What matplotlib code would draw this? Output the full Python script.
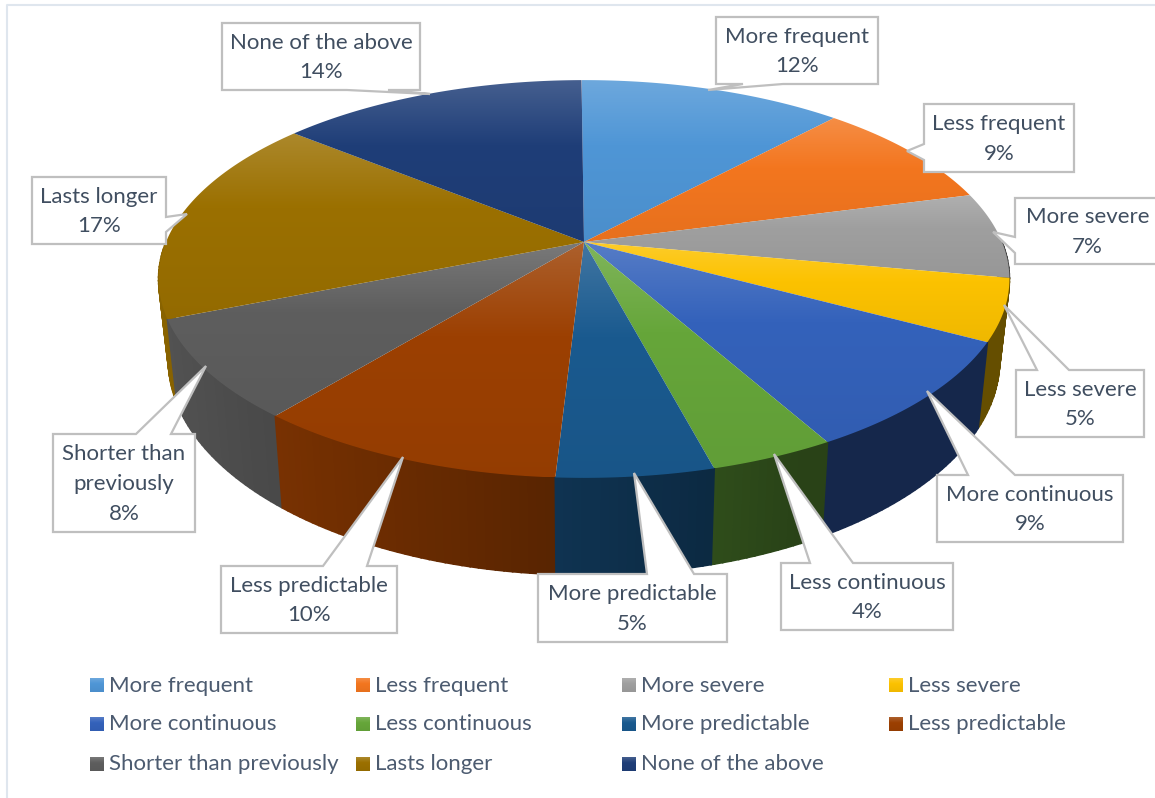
import numpy as np
import matplotlib
matplotlib.use("Agg")
from matplotlib import pyplot as plt
from matplotlib.patches import Polygon

plt.rcParams["font.family"] = ["Lato", "DejaVu Sans"]

categories = ["More frequent", "Less frequent", "More severe", "Less severe",
              "More continuous", "Less continuous", "More predictable",
              "Less predictable", "Shorter than previously", "Lasts longer",
              "None of the above"]
values = [12, 9, 7, 5, 9, 4, 5, 10, 8, 17, 14]
colors = ["#4f96d6", "#f3761f", "#9f9f9f", "#fcc200", "#3462bb", "#66a63a",
          "#1a5a8f", "#9c4002", "#5e5e5e", "#9b7000", "#1f3e78"]

# label text, box (left, top, right, bottom), pointer tip, two pointer base points
callouts = [
    ("More frequent\n12%", (716, 17, 878, 84), (708, 90), (743, 84), (783, 84)),
    ("Less frequent\n9%", (924, 104, 1074, 172), (907, 151), (924, 144), (924, 160)),
    ("More severe\n7%", (1015, 198, 1160, 264), (993, 232), (1015, 237), (1015, 253)),
    ("Less severe\n5%", (1016, 370, 1144, 437), (1004, 305), (1037, 370), (1069, 370)),
    ("More continuous\n9%", (937, 475, 1123, 542), (927, 391), (968, 475), (1015, 475)),
    ("Less continuous\n4%", (781, 563, 953, 630), (774, 454), (810, 563), (853, 563)),
    ("More predictable\n5%", (538, 574, 727, 642), (634, 473), (647, 574), (694, 574)),
    ("Less predictable\n10%", (221, 566, 397, 633), (403, 457), (323, 566), (367, 566)),
    ("Shorter than\npreviously\n8%", (53, 434, 195, 532), (206, 366), (136, 434), (171, 434)),
    ("Lasts longer\n17%", (32, 177, 166, 244), (187, 214), (166, 217), (166, 232)),
    ("None of the above\n14%", (222, 23, 420, 90), (430, 94), (347, 90), (388, 90)),
]

legend_cols = [90, 356, 622, 889]
legend_rows = [685, 724, 764]

# perspective disc: apex position, radius, tilt and foreshortening
CX, CY = 584, 242
R, H, K = 418, 192, 0.186
START = np.radians(-0.4)
# rim of the lower face relative to the upper one
SCALE_X, BASE_A, BASE_B = 0.977, 58.8, 1.08


def project(theta):
    # theta runs clockwise from 12 o'clock
    u, v = np.sin(theta), np.cos(theta)
    w = 1 + K * v
    return CX + R * u / w, CY - H * v / w


def project_base(theta):
    x, y = project(theta)
    return CX + SCALE_X * (x - CX), BASE_A + BASE_B * y


def shade(color, factor):
    rgb = np.array(matplotlib.colors.to_rgb(color))
    return tuple(rgb * factor)


def gradient(color, t):
    # lighter at the top of a shape, slightly darker at the bottom
    rgb = np.array(matplotlib.colors.to_rgb(color))
    out = np.zeros((len(t), 3))
    for i, p in enumerate(t):
        if p < 0.4:
            mix = 0.17 * (0.4 - p) / 0.4
            out[i] = rgb + (1 - rgb) * mix
        else:
            out[i] = rgb * (1 - 0.05 * (p - 0.4) / 0.6)
    return out[:, None, :]


def fill_gradient(ax, xy, color, zorder):
    patch = Polygon(xy, closed=True, facecolor="none", edgecolor="none", zorder=zorder)
    ax.add_patch(patch)
    top, bottom = xy[:, 1].min(), xy[:, 1].max()
    img = ax.imshow(gradient(color, np.linspace(0, 1, 128)), aspect="auto",
                    extent=(xy[:, 0].min(), xy[:, 0].max(), bottom, top),
                    interpolation="bilinear", zorder=zorder)
    img.set_clip_path(patch)


fig = plt.figure(figsize=(11.55, 7.98), dpi=100)
ax = fig.add_axes([0, 0, 1, 1])

edges = START + np.cumsum([0] + values) / sum(values) * 2 * np.pi

# outer wall, painted from the back to the front; the far half stays hidden
strips = []
for i, color in enumerate(colors):
    a = np.arange(edges[i], edges[i + 1], np.radians(1.0))
    a = np.append(a, edges[i + 1])
    for t0, t1 in zip(a[:-1], a[1:]):
        depth = np.cos((t0 + t1) / 2)
        if depth < 0:
            strips.append((depth, t0, t1, color))
strips.sort(key=lambda s: -s[0])
for _, t0, t1, color in strips:
    x0, y0 = project(t0)
    x1, y1 = project(t1)
    x2, y2 = project_base(t1)
    x3, y3 = project_base(t0)
    f = np.clip(0.55 - 0.35 * np.sin((t0 + t1) / 2), 0.40, 0.95)
    c = shade(color, f)
    ax.add_patch(Polygon([(x0, y0), (x1, y1), (x2, y2), (x3, y3)], closed=True,
                         facecolor=c, edgecolor=c, linewidth=1.2, zorder=1))

# top face
for i, color in enumerate(colors):
    a = np.linspace(edges[i], edges[i + 1], 80)
    x, y = project(a)
    xy = np.column_stack([np.append(x, CX), np.append(y, CY)])
    fill_gradient(ax, xy, color, 2 + i * 0.01)

# callout boxes
for text, (l, t, r, b), tip, p0, p1 in callouts:
    if p0[1] == b:  # pointer leaves through the bottom edge
        pts = [(l, t), (r, t), (r, b), p1, tip, p0, (l, b)]
    elif p0[1] == t:  # top edge
        pts = [(l, t), p0, tip, p1, (r, t), (r, b), (l, b)]
    elif p0[0] == l:  # left edge
        pts = [(l, t), (r, t), (r, b), (l, b), p1, tip, p0]
    else:  # right edge
        pts = [(l, t), (r, t), p0, tip, p1, (r, b), (l, b)]
    ax.add_patch(Polygon(pts, closed=True, facecolor="white", edgecolor="#bfbfbf",
                         linewidth=1.6, joinstyle="miter", zorder=4))
    ax.text((l + r) / 2, (t + b) / 2 + 1, text, ha="center", va="center", fontsize=16,
            color="#404e60", linespacing=1.6, zorder=5)

# legend, filled row by row
for i, (name, color) in enumerate(zip(categories, colors)):
    col = legend_cols[i % 4]
    row = legend_rows[i // 4]
    square = np.array([(col, row - 7), (col + 14, row - 7), (col + 14, row + 7), (col, row + 7)])
    fill_gradient(ax, square, color, 3)
    ax.text(col + 19, row + 0.5, name, ha="left", va="center", fontsize=16, color="#4c5b70", zorder=5)

# chart area frame, only top and left fall inside the image
ax.plot([7, 7, 1155], [798, 5, 5], color="#dfe6ee", linewidth=1.5, zorder=0)

ax.set_xlim(0, 1155)
ax.set_ylim(798, 0)
ax.axis("off")

fig.savefig("out.png", dpi=100, facecolor="white")
